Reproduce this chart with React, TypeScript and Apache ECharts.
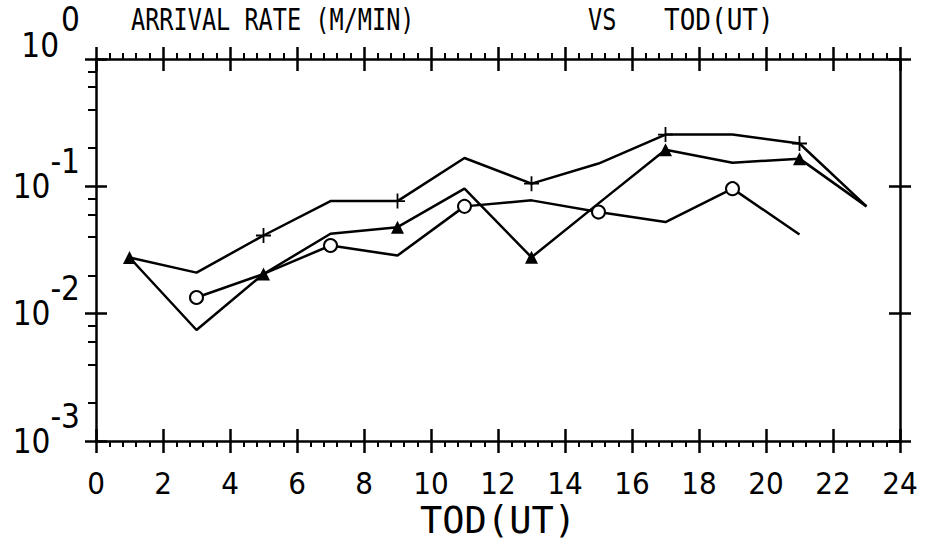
import React, { useEffect, useRef } from "react";
import * as echarts from "echarts";

// ---- data ----
const hours = [1, 3, 5, 7, 9, 11, 13, 15, 17, 19, 21, 23];
const plusRate = [0.0276, 0.021, 0.0411, 0.0766, 0.0766, 0.167, 0.105, 0.151, 0.255, 0.255, 0.217, 0.0696];
const triangleRate = [0.0276, 0.00744, 0.0205, 0.0424, 0.0478, 0.0959, 0.0277, 0.0735, 0.194, 0.153, 0.165, 0.0696];
const circleHours = [3, 5, 7, 9, 11, 13, 15, 17, 19, 21];
const circleRate = [0.0134, 0.0205, 0.0343, 0.0286, 0.0696, 0.0776, 0.0628, 0.0524, 0.0959, 0.0419];
const plusMarked = [5, 9, 13, 17, 21];
const triangleMarked = [1, 5, 9, 13, 17, 21];
const circleMarked = [3, 7, 11, 15, 19];
const yMinorTicks = [0.002, 0.004, 0.006, 0.008, 0.02, 0.04, 0.06, 0.08, 0.2, 0.4, 0.6, 0.8];
const titleParts = ["ARRIVAL RATE (M/MIN)", "VS", "TOD(UT)"];
const xName = "TOD(UT)";

const LABEL_FONT = "'Liberation Sans Narrow', 'DejaVu Sans Condensed', 'Liberation Sans', sans-serif";
const MONO = "'DejaVu Sans Mono', monospace";
const PLUS = "path://M-1.2,-10H1.2V-1.2H10V1.2H1.2V10H-1.2V1.2H-10V-1.2H-1.2Z";

const BLACK = "#000";

function pairs(xs: number[], ys: number[]) {
  return xs.map((x, i) => [x, ys[i]]);
}

export default function App() {
  const ref = useRef<HTMLDivElement>(null);

  useEffect(() => {
    if (!ref.current) return;
    const chart = echarts.init(ref.current, undefined, { renderer: "svg" });

    const lineAxis = { show: true, onZero: false, lineStyle: { color: BLACK, width: 2.5 } };
    const noLine = { show: false, onZero: false };
    const xBase = { type: "value", min: 0, max: 24, interval: 2, splitLine: { show: false } };
    const yBase = { type: "log", logBase: 10, min: 0.001, max: 1, splitLine: { show: false } };
    const labelText = { fontSize: 33, fontFamily: LABEL_FONT, color: BLACK };
    const titleStyle = { fontSize: 31, fontFamily: MONO, fill: BLACK, align: "left", verticalAlign: "middle" };

    const option: any = {
      animation: false,
      backgroundColor: "#fff",
      grid: { left: 96, right: 34, top: 59, bottom: 98, containLabel: false, outerBoundsMode: "none" },
      graphic: [
        { type: "text", x: 131, y: 19, scaleX: 0.76, silent: true, style: { ...titleStyle, text: titleParts[0] } },
        { type: "text", x: 588, y: 19, scaleX: 0.76, silent: true, style: { ...titleStyle, text: titleParts[1] } },
        { type: "text", x: 664, y: 19, scaleX: 0.84, silent: true, style: { ...titleStyle, text: titleParts[2] } },
      ],
      xAxis: [
        {
          ...xBase, position: "bottom", axisLine: lineAxis,
          axisTick: { show: true, inside: false, length: 12, lineStyle: { color: BLACK, width: 2.5 } },
          minorTick: { show: true, splitNumber: 5, length: 6, lineStyle: { color: BLACK, width: 2 } },
          axisLabel: { ...labelText, fontSize: 31, margin: 26, lineHeight: 31 },
          name: xName, nameLocation: "middle", nameGap: 79, nameMoveOverlap: false,
          nameTextStyle: { fontSize: 37, lineHeight: 36, fontFamily: MONO, color: BLACK, verticalAlign: "middle" },
        },
        {
          ...xBase, position: "bottom", axisLine: noLine,
          axisTick: { show: true, inside: true, length: 12, lineStyle: { color: BLACK, width: 2.5 } },
          axisLabel: { show: false },
        },
        {
          ...xBase, position: "top", axisLine: lineAxis,
          axisTick: { show: true, inside: false, length: 12, lineStyle: { color: BLACK, width: 2.5 } },
          minorTick: { show: true, splitNumber: 5, length: 6, lineStyle: { color: BLACK, width: 2 } },
          axisLabel: { show: false },
        },
        {
          ...xBase, position: "top", axisLine: noLine,
          axisTick: { show: true, inside: true, length: 12, lineStyle: { color: BLACK, width: 2.5 } },
          axisLabel: { show: false },
        },
      ],
      yAxis: [
        {
          ...yBase, position: "left", axisLine: lineAxis,
          axisTick: { show: true, inside: false, length: 11, lineStyle: { color: BLACK, width: 2.5 } },
          axisLabel: {
            margin: 16,
            formatter: (v: number) => {
              const e = Math.round(Math.log10(v));
              return e === 0 ? "{b0|10}{e0|0}" : "{b|10}{e|" + e + "}";
            },
            rich: {
              b: { ...labelText, verticalAlign: "middle" },
              e: { ...labelText, verticalAlign: "middle", padding: [0, 0, 50, 0] },
              b0: { ...labelText, verticalAlign: "middle", padding: [0, 0, 28, 0] },
              e0: { ...labelText, verticalAlign: "middle", padding: [0, 0, 80, 2] },
            },
          },
        },
        {
          ...yBase, position: "left", axisLine: noLine,
          axisTick: { show: true, inside: false, length: 8, customValues: yMinorTicks, lineStyle: { color: BLACK, width: 2 } },
          axisLabel: { show: false },
        },
        {
          ...yBase, position: "left", axisLine: noLine,
          axisTick: { show: true, inside: true, length: 11, lineStyle: { color: BLACK, width: 2.5 } },
          axisLabel: { show: false },
        },
        {
          ...yBase, position: "right", axisLine: lineAxis,
          axisTick: { show: true, inside: false, length: 11, lineStyle: { color: BLACK, width: 2.5 } },
          axisLabel: { show: false },
        },
        {
          ...yBase, position: "right", axisLine: noLine,
          axisTick: { show: true, inside: true, length: 11, lineStyle: { color: BLACK, width: 2.5 } },
          axisLabel: { show: false },
        },
      ],
      series: [
        {
          name: "plus", type: "line", xAxisIndex: 0, yAxisIndex: 0,
          data: pairs(hours, plusRate),
          lineStyle: { color: BLACK, width: 2.5 },
          itemStyle: { color: BLACK },
          symbol: (val: number[]) => (plusMarked.includes(val[0]) ? PLUS : "none"),
          symbolSize: 15,
          showAllSymbol: true,
        },
        {
          name: "triangle", type: "line", xAxisIndex: 0, yAxisIndex: 0,
          data: pairs(hours, triangleRate),
          lineStyle: { color: BLACK, width: 2.5 },
          itemStyle: { color: BLACK },
          symbol: (val: number[]) => (triangleMarked.includes(val[0]) ? "triangle" : "none"),
          symbolSize: 13,
          showAllSymbol: true,
        },
        {
          name: "circle", type: "line", xAxisIndex: 0, yAxisIndex: 0,
          data: pairs(circleHours, circleRate),
          lineStyle: { color: BLACK, width: 2.5 },
          itemStyle: { color: BLACK, borderColor: BLACK, borderWidth: 2.5 },
          symbol: (val: number[]) => (circleMarked.includes(val[0]) ? "emptyCircle" : "none"),
          symbolSize: 13,
          showAllSymbol: true,
        },
      ],
    };

    chart.setOption(option);
    return () => chart.dispose();
  }, []);

  return (
    <div
      ref={ref}
      style={{ position: "fixed", left: 0, top: 0, width: 934, height: 539, background: "#fff" }}
    />
  );
}
